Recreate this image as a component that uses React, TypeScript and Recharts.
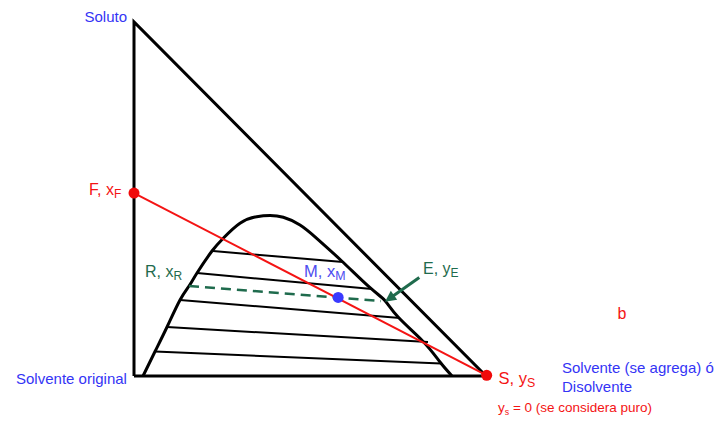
import React from 'react';
import { ComposedChart, Line, Scatter, XAxis, YAxis, ReferenceLine } from 'recharts';

// Ternary (right-triangle) diagram in percent coordinates
const triangle = [
  { x: 0, y: 0 },
  { x: 0, y: 100 },
  { x: 100, y: 0 },
  { x: 0, y: 0 },
];

const binodal = [
  { x: 2.56, y: 0 },
  { x: 5.97, y: 6.92 },
  { x: 9.38, y: 13.84 },
  { x: 13.07, y: 21.47 },
  { x: 15.63, y: 25.42 },
  { x: 17.9, y: 29.1 },
  { x: 22.16, y: 35.31 },
  { x: 25.28, y: 38.84 },
  { x: 30.11, y: 43.14 },
  { x: 34.86, y: 45.0 },
  { x: 38.64, y: 45.34 },
  { x: 42.41, y: 44.83 },
  { x: 47.16, y: 42.66 },
  { x: 51.9, y: 38.9 },
  { x: 59.0, y: 32.49 },
  { x: 67.05, y: 24.94 },
  { x: 71.31, y: 21.27 },
  { x: 75.09, y: 16.58 },
  { x: 82.19, y: 9.69 },
  { x: 86.93, y: 3.95 },
  { x: 90.34, y: 0 },
];

const tieLines = [
  [{ x: 22.44, y: 35.31 }, { x: 59.38, y: 32.2 }],
  [{ x: 17.9, y: 29.1 }, { x: 67.61, y: 24.58 }],
  [{ x: 13.07, y: 21.47 }, { x: 75.57, y: 16.38 }],
  [{ x: 9.38, y: 13.84 }, { x: 83.52, y: 9.6 }],
  [{ x: 5.97, y: 6.92 }, { x: 87.22, y: 3.53 }],
];

const tieLineRE = [
  { x: 15.63, y: 25.42 },
  { x: 70.17, y: 21.19 },
];

const pointF = { x: 0, y: 51.69 };
const pointS = { x: 100.2, y: 0.2 };
const pointM = { x: 58.0, y: 22.2 };

const mixLine = [pointF, pointS];

const arrowE = [
  { x: 81.05, y: 27.85 },
  { x: 71.31, y: 20.99 },
];

const labels = [
  { id: 'soluto', x: -1.99, y: 100.0, parts: [{ t: 'Soluto' }] },
  { id: 'F', x: -12.78, y: 51.13, parts: [{ t: 'F, x' }, { t: 'F', sub: true }] },
  { id: 'R', x: 3.13, y: 27.97, parts: [{ t: 'R, x' }, { t: 'R', sub: true }] },
  { id: 'M', x: 48.3, y: 27.97, parts: [{ t: 'M, x' }, { t: 'M', sub: true }] },
  { id: 'E', x: 82.1, y: 28.81, parts: [{ t: 'E, y' }, { t: 'E', sub: true }] },
  { id: 'b', x: 137.36, y: 16.1, parts: [{ t: 'b' }] },
  { id: 'orig', x: -33.52, y: -2.26, parts: [{ t: 'Solvente original' }] },
  { id: 'S', x: 103.55, y: -2.26, parts: [{ t: 'S, y' }, { t: 'S', sub: true }] },
  { id: 'solv1', x: 121.59, y: 0.71, parts: [{ t: 'Solvente (se agrega) ó' }] },
  { id: 'solv2', x: 121.59, y: -4.38, parts: [{ t: 'Disolvente' }] },
  { id: 'ys', x: 103.41, y: -10.17, parts: [{ t: 'y' }, { t: 's', sub: true }, { t: ' = 0 (se considera puro)' }] },
];

const BLUE = '#3434f5';
const RED = '#f41414';
const GREEN = '#1f6b4d';

const LABEL_STYLE: Record<string, { color: string; size: number; anchor: string; sub: number }> = {
  soluto: { color: BLUE, size: 15, anchor: 'end', sub: 0.72 },
  F: { color: RED, size: 16, anchor: 'start', sub: 0.75 },
  R: { color: GREEN, size: 16, anchor: 'start', sub: 0.75 },
  M: { color: '#4d4df0', size: 16.5, anchor: 'start', sub: 0.75 },
  E: { color: GREEN, size: 16, anchor: 'start', sub: 0.75 },
  b: { color: RED, size: 16, anchor: 'start', sub: 0.75 },
  orig: { color: BLUE, size: 15, anchor: 'start', sub: 0.75 },
  S: { color: RED, size: 16.5, anchor: 'start', sub: 0.75 },
  solv1: { color: BLUE, size: 15, anchor: 'start', sub: 0.75 },
  solv2: { color: BLUE, size: 15, anchor: 'start', sub: 0.75 },
  ys: { color: RED, size: 13.5, anchor: 'start', sub: 0.65 },
};

const FONT = '"Liberation Sans", Arial, Helvetica, sans-serif';

const X_DOMAIN = [-38.07, 166.76];
const Y_DOMAIN = [-14.12, 106.21];

const LabelShape = (props: any) => {
  const { cx, cy, payload } = props;
  const st = LABEL_STYLE[payload.id];
  let shifted = false;
  return (
    <text x={cx} y={cy} textAnchor={st.anchor} fill={st.color} fontSize={st.size} fontFamily={FONT}>
      {payload.parts.map((p: any, i: number) => {
        let dy = 0;
        if (p.sub && !shifted) {
          dy = 3;
          shifted = true;
        } else if (!p.sub && shifted) {
          dy = -3;
          shifted = false;
        }
        return (
          <tspan key={i} dy={dy} fontSize={p.sub ? `${st.sub}em` : undefined}>
            {p.t}
          </tspan>
        );
      })}
    </text>
  );
};

const ArrowShape = (props: any) => {
  const { x1, y1, x2, y2 } = props;
  const dx = x2 - x1;
  const dy = y2 - y1;
  const len = Math.sqrt(dx * dx + dy * dy) || 1;
  const ux = dx / len;
  const uy = dy / len;
  const headLen = 11;
  const headHalf = 5.5;
  const bx = x2 - ux * headLen;
  const by = y2 - uy * headLen;
  const px = -uy;
  const py = ux;
  return (
    <g>
      <line x1={x1} y1={y1} x2={bx + ux * 2} y2={by + uy * 2} stroke={GREEN} strokeWidth={3} />
      <polygon
        points={`${x2},${y2} ${bx + px * headHalf},${by + py * headHalf} ${bx - px * headHalf},${by - py * headHalf}`}
        fill={GREEN}
      />
    </g>
  );
};

export default function App() {
  return (
    <div style={{ position: 'absolute', left: 0, top: 0, background: '#fff' }}>
      <ComposedChart width={721} height={426} margin={{ top: 0, right: 0, bottom: 0, left: 0 }}>
        <XAxis type="number" dataKey="x" domain={X_DOMAIN} hide allowDataOverflow />
        <YAxis type="number" dataKey="y" domain={Y_DOMAIN} hide allowDataOverflow />
        <Line
          data={triangle}
          dataKey="y"
          type="linear"
          stroke="#000"
          strokeWidth={3}
          strokeLinejoin="miter"
          dot={false}
          activeDot={false}
          isAnimationActive={false}
        />
        <Line
          data={binodal}
          dataKey="y"
          type="natural"
          stroke="#000"
          strokeWidth={3}
          dot={false}
          activeDot={false}
          isAnimationActive={false}
        />
        {tieLines.map((seg, i) => (
          <Line
            key={i}
            data={seg}
            dataKey="y"
            type="linear"
            stroke="#000"
            strokeWidth={2}
            dot={false}
            activeDot={false}
            isAnimationActive={false}
          />
        ))}
        <Line
          data={tieLineRE}
          dataKey="y"
          type="linear"
          stroke={GREEN}
          strokeWidth={2.5}
          strokeDasharray="10 6"
          dot={false}
          activeDot={false}
          isAnimationActive={false}
        />
        <Line
          data={mixLine}
          dataKey="y"
          type="linear"
          stroke={RED}
          strokeWidth={2}
          dot={false}
          activeDot={false}
          isAnimationActive={false}
        />
        <ReferenceLine
          segment={arrowE}
          ifOverflow="visible"
          shape={ArrowShape}
        />
        <Scatter data={[pointF, pointS]} fill={RED} isAnimationActive={false}
          shape={(p: any) => <circle cx={p.cx} cy={p.cy} r={5.5} fill="#f00a0a" />} />
        <Scatter data={[pointM]} fill="#3a3aff" isAnimationActive={false}
          shape={(p: any) => <circle cx={p.cx} cy={p.cy} r={5.5} fill="#3a3aff" />} />
        <Scatter data={labels} isAnimationActive={false} shape={LabelShape} />
      </ComposedChart>
    </div>
  );
}
